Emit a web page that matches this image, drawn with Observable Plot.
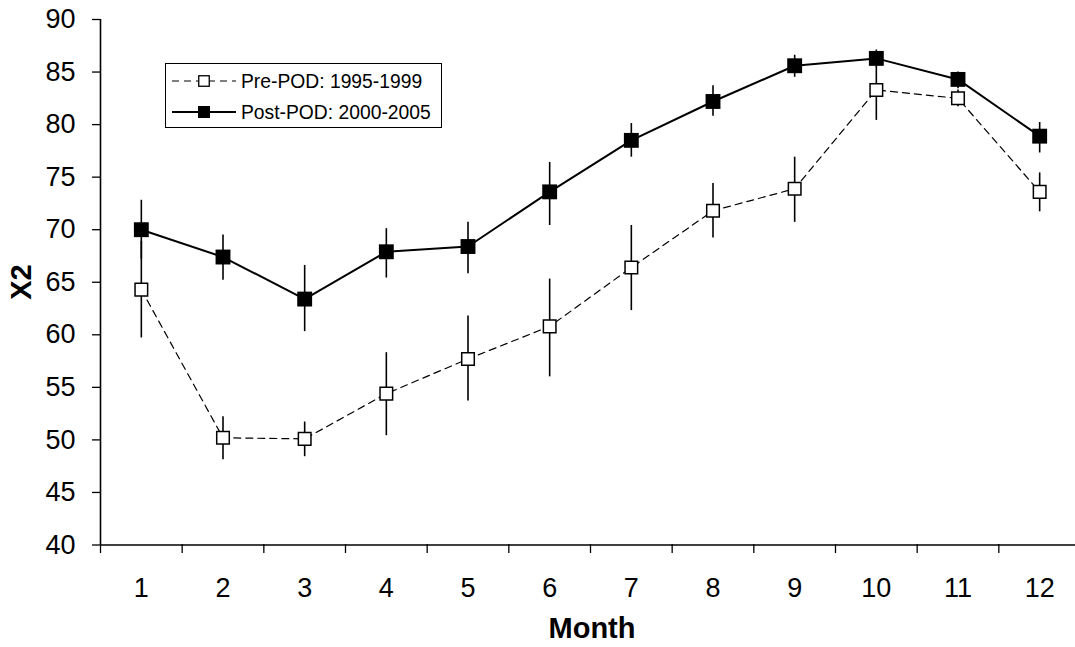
<!DOCTYPE html>
<html>
<head>
<meta charset="utf-8">
<script src="https://cdn.jsdelivr.net/npm/d3@7"></script>
<script src="https://cdn.jsdelivr.net/npm/@observablehq/plot@0.6"></script>
<style>
  html, body { margin: 0; padding: 0; background: #fff; }
  #wrap { position: relative; width: 1075px; height: 647px; font-family: "Liberation Sans", Arial, sans-serif; }
  #legend { position: absolute; left: 165px; top: 63px; width: 275px; height: 63px; border: 1.5px solid #000; background: #fff; }
</style>
</head>
<body>
<div id="wrap"></div>
<script>
const months = [1, 2, 3, 4, 5, 6, 7, 8, 9, 10, 11, 12];
const preMean = [64.3, 50.2, 50.1, 54.4, 57.7, 60.8, 66.4, 71.8, 73.9, 83.3, 82.5, 73.6];
const preLow  = [59.7, 48.1, 48.4, 50.4, 53.7, 56.0, 62.3, 69.2, 70.7, 80.4, 81.7, 71.7];
const preHigh = [68.9, 52.2, 51.7, 58.3, 61.8, 65.3, 70.4, 74.4, 76.9, 86.2, 83.3, 75.4];
const postMean = [70.0, 67.4, 63.4, 67.9, 68.4, 73.6, 78.5, 82.2, 85.6, 86.3, 84.3, 78.9];
const postLow  = [67.2, 65.2, 60.3, 65.4, 65.8, 70.4, 76.9, 80.8, 84.5, 85.5, 83.4, 77.3];
const postHigh = [72.8, 69.5, 66.6, 70.1, 70.7, 76.4, 80.1, 83.7, 86.6, 87.1, 85.0, 80.2];
const yTicks = [40, 45, 50, 55, 60, 65, 70, 75, 80, 85, 90];
const xBounds = [0.5, 1.5, 2.5, 3.5, 4.5, 5.5, 6.5, 7.5, 8.5, 9.5, 10.5, 11.5, 12.5];
const seriesNames = ["Pre-POD: 1995-1999", "Post-POD: 2000-2005"];

const pre = months.map((m, i) => ({month: m, v: preMean[i], lo: preLow[i], hi: preHigh[i]}));
const post = months.map((m, i) => ({month: m, v: postMean[i], lo: postLow[i], hi: postHigh[i]}));

const chart = Plot.plot({
  width: 1075,
  height: 647,
  marginLeft: 100,
  marginRight: 0,
  marginTop: 19,
  marginBottom: 103,
  style: {fontFamily: "'Liberation Sans', Arial, sans-serif", fontSize: "27px", color: "#000", background: "#fff"},
  x: {domain: [0.5, 12.5], range: [100, 1080]},
  y: {domain: [40, 90], range: [544.5, 19]},
  marks: [
    Plot.axisY({ticks: yTicks, tickSize: 8, tickPadding: 17, strokeWidth: 1.3, label: null, fontSize: 27}),
    Plot.axisX({ticks: xBounds, tickSize: 9, tickFormat: () => "", strokeWidth: 1.3, label: null}),
    Plot.axisX({ticks: months, tickSize: 0, tickPadding: 33, label: null, fontSize: 27}),
    Plot.ruleX([0.5], {y1: 40, y2: 90, stroke: "#000", strokeWidth: 1.6}),
    Plot.ruleY([40], {x1: 0.5, x2: 12.5, stroke: "#000", strokeWidth: 1.6}),
    Plot.ruleX(pre, {x: "month", y1: "lo", y2: "hi", stroke: "#000", strokeWidth: 1.6}),
    Plot.ruleX(post, {x: "month", y1: "lo", y2: "hi", stroke: "#000", strokeWidth: 1.6}),
    Plot.line(pre, {x: "month", y: "v", stroke: "#000", strokeWidth: 1.2, strokeDasharray: "7,5"}),
    Plot.line(post, {x: "month", y: "v", stroke: "#000", strokeWidth: 2}),
    Plot.dot(pre, {x: "month", y: "v", symbol: "square", r: 7.1, fill: "#fff", stroke: "#000", strokeWidth: 1.5}),
    Plot.dot(post, {x: "month", y: "v", symbol: "square", r: 8.4, fill: "#000", stroke: "none"}),
    Plot.text(["X2"], {frameAnchor: "left", dx: -79, rotate: -90, fontSize: 29, fontWeight: "bold", textAnchor: "middle", lineAnchor: "middle"}),
    Plot.text(["Month"], {frameAnchor: "bottom", dx: 4, dy: 84, fontSize: 29, fontWeight: "bold", textAnchor: "middle", lineAnchor: "middle"})
  ]
});

const wrap = document.getElementById("wrap");
wrap.appendChild(chart);

// Legend overlay
const legend = document.createElement("div");
legend.id = "legend";
const ns = "http://www.w3.org/2000/svg";
const lsvg = document.createElementNS(ns, "svg");
lsvg.setAttribute("width", 275);
lsvg.setAttribute("height", 63);
lsvg.style.display = "block";
const rows = [
  {name: seriesNames[0], dash: "7,5", lw: 1.2, fill: "#fff", stroke: "#000", y: 17},
  {name: seriesNames[1], dash: null, lw: 2, fill: "#000", stroke: "none", y: 48}
];
rows.forEach(r => {
  const ln = document.createElementNS(ns, "line");
  ln.setAttribute("x1", 6); ln.setAttribute("x2", 70);
  ln.setAttribute("y1", r.y); ln.setAttribute("y2", r.y);
  ln.setAttribute("stroke", "#000"); ln.setAttribute("stroke-width", r.lw);
  if (r.dash) ln.setAttribute("stroke-dasharray", r.dash);
  lsvg.appendChild(ln);
  const sq = document.createElementNS(ns, "rect");
  const s = r.stroke === "none" ? 12 : 10.5;
  sq.setAttribute("x", 38 - s / 2); sq.setAttribute("y", r.y - s / 2);
  sq.setAttribute("width", s); sq.setAttribute("height", s);
  sq.setAttribute("fill", r.fill);
  if (r.stroke !== "none") { sq.setAttribute("stroke", "#000"); sq.setAttribute("stroke-width", 1.3); }
  lsvg.appendChild(sq);
  const tx = document.createElementNS(ns, "text");
  tx.setAttribute("x", 75); tx.setAttribute("y", r.y + 7);
  tx.setAttribute("font-size", 19.3);
  tx.setAttribute("font-family", "'Liberation Sans', Arial, sans-serif");
  tx.textContent = r.name;
  lsvg.appendChild(tx);
});
legend.appendChild(lsvg);
wrap.appendChild(legend);
</script>
</body>
</html>
